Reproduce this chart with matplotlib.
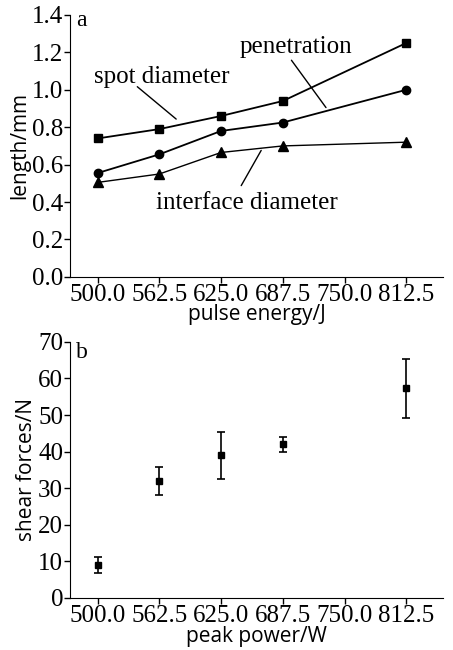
import matplotlib.pyplot as plt
import matplotlib as mpl

# data
energy = [500.0, 562.5, 625.0, 687.5, 812.5]
spot = [0.74, 0.79, 0.86, 0.94, 1.25]
penetration = [0.555, 0.655, 0.78, 0.825, 1.0]
interface = [0.505, 0.55, 0.665, 0.70, 0.72]

power = [500.0, 562.5, 625.0, 687.5, 812.5]
shear = [9.0, 32.0, 39.0, 42.0, 57.3]
shear_err = [2.2, 3.9, 6.5, 2.0, 8.0]

xticks = [500.0, 562.5, 625.0, 687.5, 750.0, 812.5]

mpl.rcParams['font.family'] = 'Liberation Serif'
mpl.rcParams['font.size'] = 18
label_font = {'family': 'Open Sans', 'size': 15}

fig = plt.figure(figsize=[4.53, 6.5], dpi=100)
ax1 = fig.add_axes([0.1545, 0.574, 0.824, 0.403])
ax2 = fig.add_axes([0.1545, 0.080, 0.824, 0.394])

for ax in (ax1, ax2):
    ax.spines['top'].set_visible(False)
    ax.spines['right'].set_visible(False)
    ax.tick_params(direction='out', length=4, width=1, pad=1)
    ax.set_xlim(472, 850)
    ax.set_xticks(xticks)
    ax.set_xticklabels(['%.1f' % v for v in xticks])

# panel a
ax1.plot(energy, spot, color='black', marker='s', ms=6, lw=1.3)
ax1.plot(energy, penetration, color='black', marker='o', ms=6, lw=1.3)
ax1.plot(energy, interface, color='black', marker='^', ms=6.5, lw=1.0)
ax1.set_ylim(0, 1.4)
ax1.set_yticks([0.0, 0.2, 0.4, 0.6, 0.8, 1.0, 1.2, 1.4])
ax1.set_yticklabels(['0.0', '0.2', '0.4', '0.6', '0.8', '1.0', '1.2', '1.4'])
ax1.set_xlabel('pulse energy/J', fontdict=label_font, labelpad=-1)
ax1.set_ylabel('length/mm', fontdict=label_font, labelpad=1)
ax1.text(478, 1.37, 'a', fontsize=17, va='center')

arrow = dict(arrowstyle='-', color='black', lw=1.0)
ax1.text(564.5, 1.069, 'spot diameter', ha='center', va='center', fontsize=18)
ax1.annotate('', xy=(581.7, 0.834), xytext=(538, 1.026), arrowprops=arrow)
ax1.text(700.6, 1.23, 'penetration', ha='center', va='center', fontsize=18)
ax1.annotate('', xy=(732.9, 0.893), xytext=(694.6, 1.17), arrowprops=arrow)
ax1.text(651, 0.395, 'interface diameter', ha='center', va='center', fontsize=18)
ax1.annotate('', xy=(667, 0.689), xytext=(644, 0.475), arrowprops=arrow)

# panel b
ax2.errorbar(power, shear, yerr=shear_err, fmt='s', color='black', ms=4,
             capsize=3, elinewidth=1.2, capthick=1.2)
ax2.set_ylim(0, 70)
ax2.set_yticks(range(0, 71, 10))
ax2.set_xlabel('peak power/W', fontdict=label_font, labelpad=-1)
ax2.set_ylabel('shear forces/N', fontdict=label_font, labelpad=1)
ax2.text(478, 67, 'b', fontsize=17, va='center')

fig.savefig('out.png', dpi=100)
